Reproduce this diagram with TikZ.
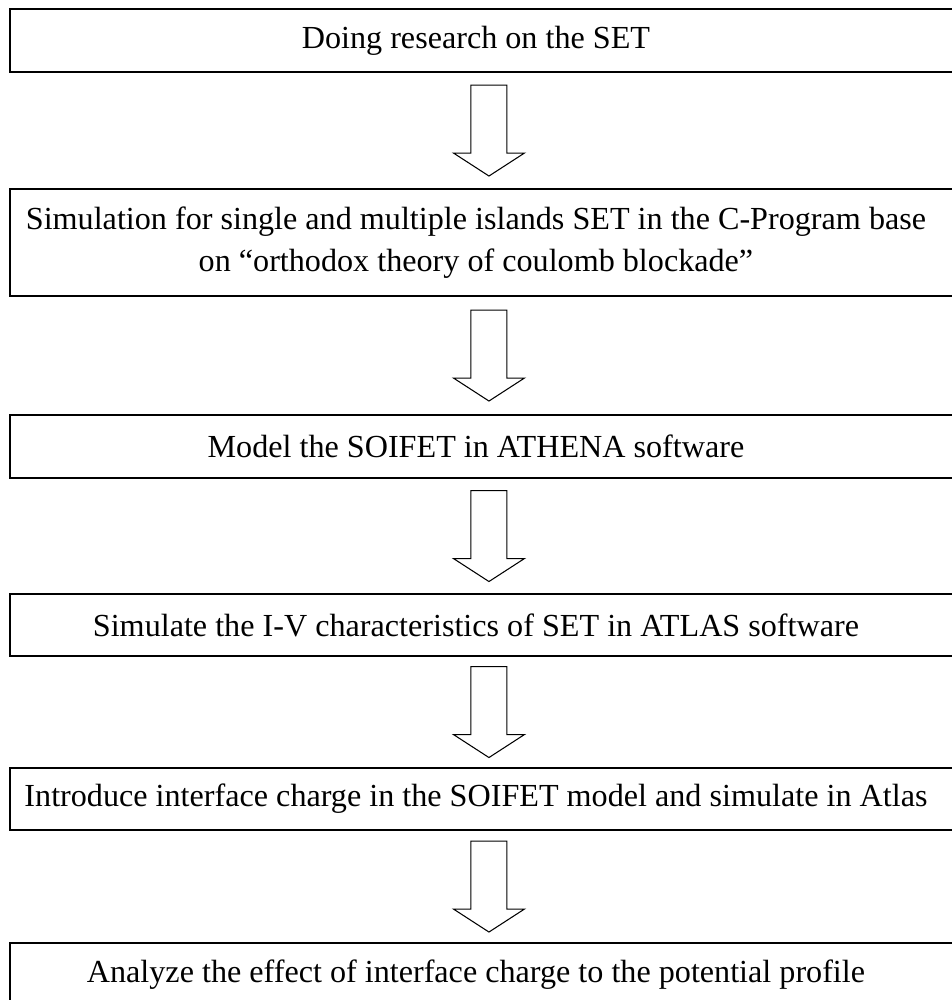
\documentclass[tikz,border=0pt]{standalone}
\usepackage{fontspec}
\setmainfont{Liberation Serif}
\usetikzlibrary{calc}

\tikzset{
    stepbox/.style={draw, line width=1.2pt, minimum width=19.16cm, inner sep=0pt, anchor=north west},
    steptext/.style={align=center, inner sep=0pt, font=\fontsize{18.3}{23.8}\selectfont},
    hollowarrow/.style={draw, line width=0.6pt, fill=white, line join=miter},
}

% hollow block arrow centred on a named coordinate
\newcommand{\hollowarrowat}[1]{%
    \draw[hollowarrow] ($(#1)+(-18,45.5)$) -- ($(#1)+(18,45.5)$) -- ($(#1)+(18,-22.5)$)
        -- ($(#1)+(35.5,-22.5)$) -- ($(#1)+(0,-45.5)$) -- ($(#1)+(-35.5,-22.5)$)
        -- ($(#1)+(-18,-22.5)$) -- cycle;}

\begin{document}
\begin{tikzpicture}[x=0.02cm, y=0.02cm]
    \useasboundingbox (0,0) rectangle (951,1000);

    % Step boxes
    \node[stepbox, minimum height=1.26cm] (b1) at (9,992) {};
    \node[stepbox, minimum height=2.14cm] (b2) at (9,812) {};
    \node[stepbox, minimum height=1.26cm] (b3) at (9,586) {};
    \node[stepbox, minimum height=1.24cm] (b4) at (9,407) {};
    \node[stepbox, minimum height=1.24cm] (b5) at (9,233) {};
    \node[stepbox, minimum height=1.26cm] (b6) at (9,58) {};

    % Box texts
    \node[steptext] (t1) at ([xshift=-0.26cm]b1.center) {Doing research on the SET};
    \node[steptext] (t2) at ([xshift=-0.26cm]b2.center) {Simulation for single and multiple islands SET in the C-Program base\\on ``orthodox theory of coulomb blockade''};
    \node[steptext] (t3) at ([xshift=-0.26cm]b3.center) {Model the SOIFET in ATHENA software};
    \node[steptext] (t4) at ([xshift=-0.26cm]b4.center) {Simulate the I-V characteristics of SET in ATLAS software};
    \node[steptext] (t5) at ([xshift=-0.26cm]b5.center) {Introduce interface charge in the SOIFET model and simulate in Atlas};
    \node[steptext] (t6) at ([xshift=-0.26cm]b6.center) {Analyze the effect of interface charge to the potential profile};

    % Arrows between boxes
    \coordinate (a1) at ($(b1.south)!0.5!(b2.north)$);
    \coordinate (a2) at ($(b2.south)!0.5!(b3.north)$);
    \coordinate (a3) at ($(b3.south)!0.5!(b4.north)$);
    \coordinate (a4) at ($(b4.south)!0.5!(b5.north)$);
    \coordinate (a5) at ($(b5.south)!0.5!(b6.north)$);
    \hollowarrowat{a1}
    \hollowarrowat{a2}
    \hollowarrowat{a3}
    \hollowarrowat{a4}
    \hollowarrowat{a5}
\end{tikzpicture}
\end{document}
